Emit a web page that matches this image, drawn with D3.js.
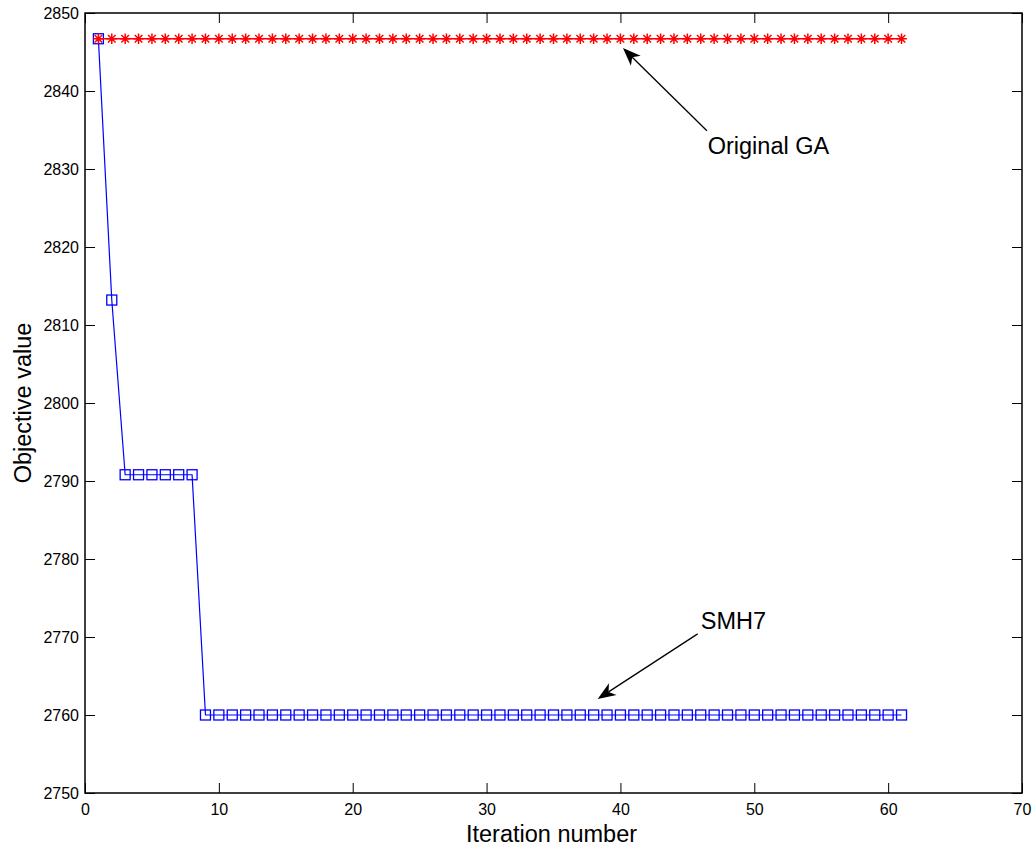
<!DOCTYPE html>
<html>
<head>
<meta charset="utf-8">
<script src="https://cdn.jsdelivr.net/npm/d3@7"></script>
<style>
  html, body { margin: 0; padding: 0; background: #fff; }
  svg { display: block; font-family: "Liberation Sans", Arial, sans-serif; }
</style>
</head>
<body>
<svg id="chart" width="1036" height="853"></svg>
<script>
// ---- data ----
const iterations = [1,2,3,4,5,6,7,8,9,10,11,12,13,14,15,16,17,18,19,20,
  21,22,23,24,25,26,27,28,29,30,31,32,33,34,35,36,37,38,39,40,
  41,42,43,44,45,46,47,48,49,50,51,52,53,54,55,56,57,58,59,60,61];
const gaValues = [2846.7,2846.7,2846.7,2846.7,2846.7,2846.7,2846.7,2846.7,2846.7,2846.7,
  2846.7,2846.7,2846.7,2846.7,2846.7,2846.7,2846.7,2846.7,2846.7,2846.7,
  2846.7,2846.7,2846.7,2846.7,2846.7,2846.7,2846.7,2846.7,2846.7,2846.7,
  2846.7,2846.7,2846.7,2846.7,2846.7,2846.7,2846.7,2846.7,2846.7,2846.7,
  2846.7,2846.7,2846.7,2846.7,2846.7,2846.7,2846.7,2846.7,2846.7,2846.7,
  2846.7,2846.7,2846.7,2846.7,2846.7,2846.7,2846.7,2846.7,2846.7,2846.7,2846.7];
const smhValues = [2846.7,2813.2,2790.8,2790.8,2790.8,2790.8,2790.8,2790.8,
  2760,2760,2760,2760,2760,2760,2760,2760,2760,2760,2760,2760,2760,2760,2760,2760,
  2760,2760,2760,2760,2760,2760,2760,2760,2760,2760,2760,2760,2760,2760,2760,2760,
  2760,2760,2760,2760,2760,2760,2760,2760,2760,2760,2760,2760,2760,2760,2760,2760,
  2760,2760,2760,2760,2760];
const xTicks = [0,10,20,30,40,50,60,70];
const yTicks = [2750,2760,2770,2780,2790,2800,2810,2820,2830,2840,2850];
const xLabel = "Iteration number";
const yLabel = "Objective value";
// annotations in data coordinates: text anchor, arrow start, arrow tip
const annLabels = ["Original GA", "SMH7"];
const annText = [[46.52, 2831.9], [46.0, 2771.0]];
const annFrom = [[46.46, 2834.9], [45.77, 2770.4]];
const annTo = [[40.19, 2845.5], [38.30, 2762.05]];

// ---- layout ----
const svg = d3.select("#chart");
const pL = 85, pR = 1022, pT = 13, pB = 793;
const x = d3.scaleLinear().domain([0, 70]).range([pL, pR]);
const y = d3.scaleLinear().domain([2750, 2850]).range([pB, pT]);
const fmt = d3.format("d");

// axes
const fontSize = 16;
const gB = svg.append("g").attr("transform", `translate(0,${pB})`)
  .call(d3.axisBottom(x).tickValues(xTicks).tickFormat(fmt).tickSizeInner(-10).tickSizeOuter(0).tickPadding(11));
const gL = svg.append("g").attr("transform", `translate(${pL},0)`)
  .call(d3.axisLeft(y).tickValues(yTicks).tickFormat(fmt).tickSizeInner(-10).tickSizeOuter(0).tickPadding(6));
const gT = svg.append("g").attr("transform", `translate(0,${pT})`)
  .call(d3.axisTop(x).tickValues(xTicks).tickSizeInner(-10).tickSizeOuter(0).tickFormat(""));
const gR = svg.append("g").attr("transform", `translate(${pR},0)`)
  .call(d3.axisRight(y).tickValues(yTicks).tickSizeInner(-10).tickSizeOuter(0).tickFormat(""));
[gB, gL, gT, gR].forEach(g => {
  g.select(".domain").remove();
  g.selectAll(".tick line").attr("stroke", "#000").attr("stroke-width", 1);
  g.selectAll(".tick text").attr("fill", "#000").style("font-size", fontSize + "px")
    .style("font-family", '"Liberation Sans", Arial, sans-serif');
});

// box
svg.append("rect").attr("x", pL).attr("y", pT)
  .attr("width", pR - pL).attr("height", pB - pT)
  .attr("fill", "none").attr("stroke", "#000").attr("stroke-width", 1.5);

// axis labels
svg.append("text").attr("x", (pL + pR) / 2 - 2).attr("y", 842)
  .attr("text-anchor", "middle").style("font-size", "23.5px").text(xLabel);
svg.append("text").attr("transform", `translate(31,${(pT + pB) / 2}) rotate(-90)`)
  .attr("text-anchor", "middle").style("font-size", "23.5px").text(yLabel);

// series data
const smhData = iterations.map((it, i) => [it, smhValues[i]]);
const gaData = iterations.map((it, i) => [it, gaValues[i]]);
const line = d3.line().x(d => x(d[0])).y(d => y(d[1]));

// SMH7 series (blue squares)
svg.append("path").datum(smhData).attr("d", line)
  .attr("fill", "none").attr("stroke", "#0000ff").attr("stroke-width", 1.2);
svg.append("g").selectAll("rect").data(smhData).join("rect")
  .attr("x", d => x(d[0]) - 5).attr("y", d => y(d[1]) - 5)
  .attr("width", 10).attr("height", 10)
  .attr("fill", "none").attr("stroke", "#0000ff").attr("stroke-width", 1.3);

// Original GA series (red stars)
svg.append("path").datum(gaData).attr("d", line)
  .attr("fill", "none").attr("stroke", "#ff0000").attr("stroke-width", 1.3);
const sr = 5.3, srd = 3.8;
svg.append("g").selectAll("path").data(gaData).join("path")
  .attr("d", d => {
    const cx = x(d[0]), cy = y(d[1]);
    return `M${cx - sr},${cy}L${cx + sr},${cy}M${cx},${cy - sr}L${cx},${cy + sr}` +
      `M${cx - srd},${cy - srd}L${cx + srd},${cy + srd}M${cx - srd},${cy + srd}L${cx + srd},${cy - srd}`;
  })
  .attr("fill", "none").attr("stroke", "#ff0000").attr("stroke-width", 1.5);

// annotations
annLabels.forEach((lab, i) => {
  const x0 = x(annFrom[i][0]), y0 = y(annFrom[i][1]);
  const x1 = x(annTo[i][0]), y1 = y(annTo[i][1]);
  const ang = Math.atan2(y1 - y0, x1 - x0);
  const L = 18, W = 7, N = 13;
  const ux = Math.cos(ang), uy = Math.sin(ang);
  const px = -uy, py = ux;
  const bx = x1 - ux * L, by = y1 - uy * L;
  const nx = x1 - ux * N, ny = y1 - uy * N;
  svg.append("line").attr("x1", x0).attr("y1", y0).attr("x2", nx).attr("y2", ny)
    .attr("stroke", "#000").attr("stroke-width", 1.3);
  svg.append("path")
    .attr("d", `M${x1},${y1}L${bx + px * W},${by + py * W}L${nx},${ny}L${bx - px * W},${by - py * W}Z`)
    .attr("fill", "#000");
  svg.append("text").attr("x", x(annText[i][0])).attr("y", y(annText[i][1]))
    .style("font-size", "23.5px").attr("fill", "#000").text(lab);
});
</script>
</body>
</html>
